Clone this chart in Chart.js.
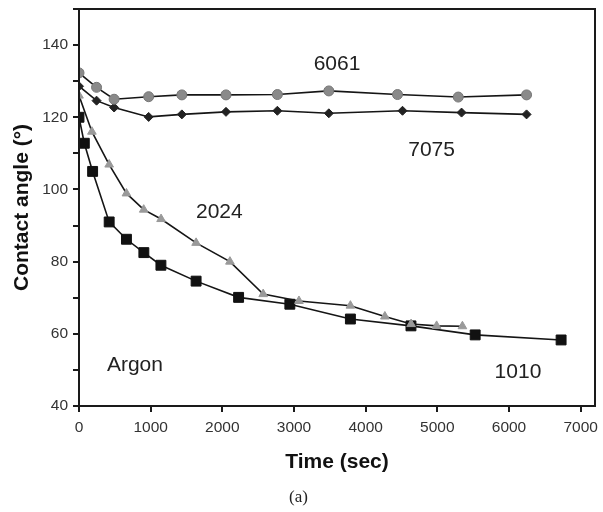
<!DOCTYPE html>
<html>
<head>
<meta charset="utf-8">
<script src="https://cdn.jsdelivr.net/npm/chart.js@4/dist/chart.umd.min.js"></script>
<style>
html,body{margin:0;padding:0;background:#fff;}
#wrap{width:603px;height:512px;position:relative;}
</style>
</head>
<body>
<div id="wrap"><canvas id="c" width="603" height="512"></canvas></div>
<script>
// ---- data ----
const t6061 = [0, 245, 490, 972, 1435, 2051, 2768, 3486, 4444, 5292, 6245];
const v6061 = [132.3, 128.3, 125.0, 125.7, 126.2, 126.2, 126.3, 127.3, 126.3, 125.6, 126.2];

const t7075 = [0, 245, 490, 972, 1435, 2051, 2768, 3486, 4514, 5338, 6245];
const v7075 = [128.6, 124.6, 122.7, 120.1, 120.8, 121.5, 121.8, 121.1, 121.8, 121.3, 120.8];

const t2024 = [0, 180, 421, 662, 903, 1145, 1634, 2106, 2570, 3069, 3787, 4268, 4634, 4990, 5350];
const v2024 = [126.0, 116.0, 106.9, 98.9, 94.4, 91.8, 85.2, 80.0, 71.0, 69.1, 67.8, 64.8, 62.7, 62.2, 62.1];

const t1010 = [0, 74, 190, 421, 662, 905, 1143, 1634, 2227, 2942, 3787, 4632, 5528, 6727];
const v1010 = [120.0, 112.8, 105.0, 91.0, 86.2, 82.5, 79.0, 74.6, 70.1, 68.2, 64.1, 62.2, 59.7, 58.3];

const xTicks = [0, 1000, 2000, 3000, 4000, 5000, 6000, 7000];
const yLabels = [40, 60, 80, 100, 120, 140];

const noteText = ["6061", "7075", "2024", "Argon", "1010"];
const noteX = [3600, 4920, 1958, 780, 6125];
const noteY = [134.7, 110.8, 93.7, 51.4, 49.4];

const xTitle = "Time (sec)";
const yTitle = "Contact angle (\u00B0)";
const caption = "(a)";

function pts(xs, ys) { return xs.map((x, i) => ({x: x, y: ys[i]})); }

const frame = {
  id: 'frame',
  afterDatasetsDraw(chart) {
    const {ctx, chartArea: a} = chart;
    ctx.save();
    ctx.strokeStyle = '#1a1a1a';
    ctx.lineWidth = 2;
    ctx.strokeRect(a.left, a.top, a.right - a.left, a.bottom - a.top);
    ctx.restore();
  }
};

const notes = {
  id: 'notes',
  afterDatasetsDraw(chart) {
    const {ctx, scales} = chart;
    ctx.save();
    ctx.fillStyle = '#222';
    ctx.font = '21px "Liberation Sans", Arial, sans-serif';
    ctx.textAlign = 'center';
    ctx.textBaseline = 'middle';
    noteText.forEach((t, i) => {
      ctx.fillText(t, scales.x.getPixelForValue(noteX[i]), scales.y.getPixelForValue(noteY[i]));
    });
    ctx.restore();
  }
};

const lineCol = '#151515';
new Chart(document.getElementById('c'), {
  type: 'scatter',
  data: {
    datasets: [
      {label: '6061', data: pts(t6061, v6061), showLine: true, borderColor: lineCol, borderWidth: 1.6,
       pointStyle: 'circle', pointRadius: 5, pointBackgroundColor: '#8a8a8a', pointBorderColor: '#777', pointBorderWidth: 1},
      {label: '7075', data: pts(t7075, v7075), showLine: true, borderColor: lineCol, borderWidth: 1.6,
       pointStyle: 'rectRot', pointRadius: 4.5, pointBackgroundColor: '#222', pointBorderColor: '#222', pointBorderWidth: 1},
      {label: '2024', data: pts(t2024, v2024), showLine: true, borderColor: lineCol, borderWidth: 1.6,
       pointStyle: 'triangle', pointRadius: 5, pointBackgroundColor: '#9a9a9a', pointBorderColor: '#999', pointBorderWidth: 1},
      {label: '1010', data: pts(t1010, v1010), showLine: true, borderColor: lineCol, borderWidth: 1.6,
       pointStyle: 'rect', pointRadius: 7, pointBackgroundColor: '#111', pointBorderColor: '#111', pointBorderWidth: 1}
    ]
  },
  options: {
    responsive: false,
    animation: false,
    devicePixelRatio: 1,
    layout: {padding: {left: 0, top: 9, right: 6, bottom: 0}},
    plugins: {
      legend: {display: false},
      tooltip: {enabled: false},
      title: {display: true, position: 'bottom', text: caption, color: '#222',
              font: {family: '"Liberation Serif", "Times New Roman", serif', size: 17, weight: 'normal'},
              padding: {top: 0, bottom: 4}}
    },
    scales: {
      x: {
        type: 'linear', min: 0, max: 7200,
        afterFit(s) { s.height = 81.6; s.paddingLeft = 0; s.paddingRight = 0; },
        afterBuildTicks(s) { s.ticks = xTicks.map(v => ({value: v})); },
        ticks: {includeBounds: false, color: '#333', padding: 6, maxRotation: 0,
                callback: v => String(v),
                font: {family: '"Liberation Sans", Arial, sans-serif', size: 15.5}},
        grid: {display: true, drawOnChartArea: false, drawTicks: true, tickLength: 6, color: '#1a1a1a', lineWidth: 2},
        border: {display: true, color: '#1a1a1a', width: 2},
        title: {display: true, text: xTitle, color: '#111',
                font: {family: '"Liberation Sans", Arial, sans-serif', size: 21, weight: 'bold'},
                padding: {top: 0, bottom: 13}}
      },
      y: {
        type: 'linear', min: 40, max: 150,
        afterFit(s) { s.width = 79; s.paddingTop = 0; s.paddingBottom = 0; },
        ticks: {stepSize: 10, color: '#333', padding: 5,
                callback: v => yLabels.includes(v) ? String(v) : '',
                font: {family: '"Liberation Sans", Arial, sans-serif', size: 15.5}},
        grid: {display: true, drawOnChartArea: false, drawTicks: true, tickLength: 6, color: '#1a1a1a', lineWidth: 2},
        border: {display: true, color: '#1a1a1a', width: 2},
        title: {display: true, text: yTitle, color: '#111',
                font: {family: '"Liberation Sans", Arial, sans-serif', size: 21, weight: 'bold'},
                padding: {top: 10, bottom: 0}}
      }
    }
  },
  plugins: [frame, notes]
});
</script>
</body>
</html>
